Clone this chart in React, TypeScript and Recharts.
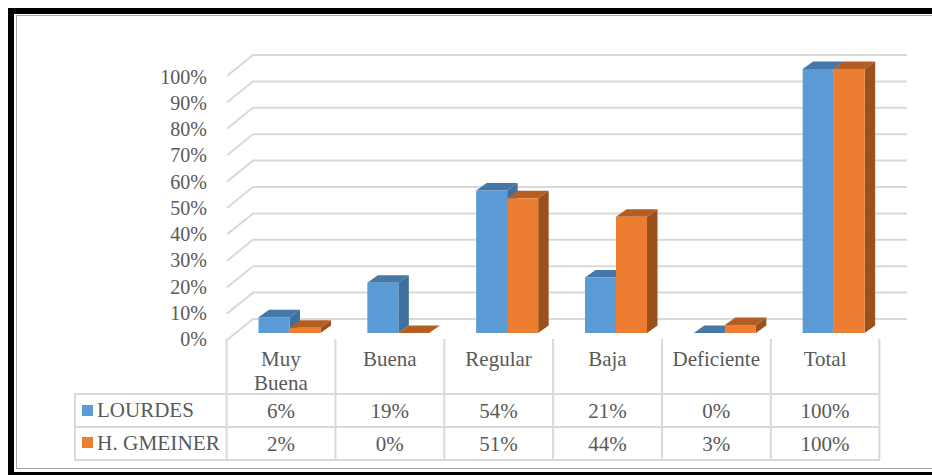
import { Bar, BarChart, CartesianGrid, XAxis, YAxis } from "recharts";

const categories = ["Muy Buena", "Buena", "Regular", "Baja", "Deficiente", "Total"];
const lourdes = [6, 19, 54, 21, 0, 100];
const gmeiner = [2, 0, 51, 44, 3, 100];
const percentTicks = [0, 10, 20, 30, 40, 50, 60, 70, 80, 90, 100];

const data = categories.map((category, i) => ({
  category,
  lourdes: lourdes[i],
  gmeiner: gmeiner[i],
}));

const FONT = "'Liberation Serif', serif";
const TEXT = "#595959";
const LINE = "#d9d9d9";
const BLUE = { front: "#5b9bd5", top: "#4578a8", side: "#3f6f9c" };
const ORANGE = { front: "#ed7d31", top: "#b55e22", side: "#9c511c" };
const DEPTH_X = 10.5;
const DEPTH_Y = 7.5;
const COL_HALF = 54.3;
const COL_SHIFT = 9;

function Bar3D(props: any) {
  const { x, y, width, height, colors } = props;
  const r = x + width;
  const b = y + height;
  return (
    <g>
      <polygon
        points={`${r},${y} ${r + DEPTH_X},${y - DEPTH_Y} ${r + DEPTH_X},${b - DEPTH_Y} ${r},${b}`}
        fill={colors.side}
      />
      <polygon
        points={`${x},${y} ${x + DEPTH_X},${y - DEPTH_Y} ${r + DEPTH_X},${y - DEPTH_Y} ${r},${y}`}
        fill={colors.top}
      />
      <rect x={x} y={y} width={width} height={height} fill={colors.front} />
    </g>
  );
}

// back wall + floor side of the fake 3d grid
function GridLine(props: any) {
  const { y1, key } = props;
  return (
    <polyline
      key={key}
      points={`227,${y1 + 7} 253,${y1 - 14} 907,${y1 - 14}`}
      fill="none"
      stroke={LINE}
      strokeWidth={2}
    />
  );
}

function PercentTick(props: any) {
  const { y, payload } = props;
  // the front edge of the plot runs on a slightly tighter scale than the bars
  const labelY = y + 13 + ((333 - y) / 264) * 1.5;
  return (
    <text x={207} y={labelY} textAnchor="end" fontFamily={FONT} fontSize={20} fill={TEXT}>
      {payload.value}%
    </text>
  );
}

// category label and data table column hang off the x axis tick
function TableColumn(props: any) {
  const { x, payload, index } = props;
  const center = x - COL_SHIFT;
  const right = center + COL_HALF;
  const left = center - COL_HALF;
  const lines = String(payload.value).split(" ");
  const textProps = { x: center, textAnchor: "middle" as const, fontFamily: FONT, fontSize: 21, fill: TEXT };
  return (
    <g>
      <line x1={left} x2={left} y1={339} y2={460} stroke={LINE} strokeWidth={2} />
      {index === categories.length - 1 && (
        <line x1={right} x2={right} y1={339} y2={460} stroke={LINE} strokeWidth={2} />
      )}
      {lines.map((t, i) => (
        <text key={t} {...textProps} y={366 + i * 24}>
          {t}
        </text>
      ))}
      <text {...textProps} y={418}>
        {lourdes[index]}%
      </text>
      <text {...textProps} y={451}>
        {gmeiner[index]}%
      </text>
    </g>
  );
}

export default function App() {
  return (
    <div style={{ position: "absolute", left: 0, top: 0, width: 932, height: 475, overflow: "hidden", background: "#fff" }}>
      <div style={{ position: "absolute", left: 8, top: 8, width: 924, height: 6, background: "#000" }} />
      <div style={{ position: "absolute", left: 8, top: 8, width: 6, height: 467, background: "#000" }} />
      <div style={{ position: "absolute", left: 8, top: 472, width: 924, height: 3, background: "#000" }} />
      <div style={{ position: "absolute", left: 16, top: 15, width: 916, height: 1, background: "#a6a6a6" }} />
      <div style={{ position: "absolute", left: 16, top: 15, width: 1, height: 454, background: "#a6a6a6" }} />
      <div style={{ position: "absolute", left: 16, top: 468, width: 916, height: 1, background: "#a6a6a6" }} />
      <BarChart
        width={932}
        height={475}
        data={data}
        barSize={31}
        barGap={0}
        margin={{ top: 69, right: 43.5, bottom: 141, left: 234.5 }}
        style={{ position: "absolute", left: 0, top: 0 }}
      >
        <CartesianGrid vertical={false} horizontal={GridLine} />
        <XAxis
          dataKey="category"
          height={1}
          interval={0}
          axisLine={false}
          tickLine={false}
          tick={TableColumn}
        />
        <YAxis
          width={1}
          domain={[0, 100]}
          ticks={percentTicks}
          interval={0}
          axisLine={false}
          tickLine={false}
          tick={PercentTick}
        />
        <Bar dataKey="lourdes" isAnimationActive={false} shape={(p: any) => <Bar3D {...p} colors={BLUE} />} />
        <Bar dataKey="gmeiner" isAnimationActive={false} shape={(p: any) => <Bar3D {...p} colors={ORANGE} />} />
        <g>
          <polyline points="227,394 75,394 75,460 880,460" fill="none" stroke={LINE} strokeWidth={2} />
          <line x1={227} x2={880} y1={394} y2={394} stroke={LINE} strokeWidth={2} />
          <line x1={75} x2={880} y1={427} y2={427} stroke={LINE} strokeWidth={2} />
          <rect x={82} y={405} width={11} height={11} fill={BLUE.front} />
          <rect x={82} y={437} width={11} height={11} fill={ORANGE.front} />
          <text x={97} y={417} fontFamily={FONT} fontSize={21} fill={TEXT}>
            LOURDES
          </text>
          <text x={97} y={450} fontFamily={FONT} fontSize={21.3} fill={TEXT}>
            H. GMEINER
          </text>
        </g>
      </BarChart>
    </div>
  );
}
